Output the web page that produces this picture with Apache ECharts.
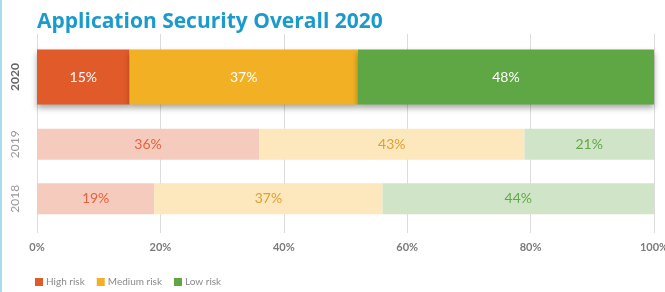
<!DOCTYPE html>
<html>
<head>
<meta charset="utf-8">
<script src="https://cdn.jsdelivr.net/npm/echarts@6/dist/echarts.min.js"></script>
<style>
  html, body { margin: 0; padding: 0; background: #fff; }
  #chart { width: 663px; height: 292px; border-left: 2px solid #a9dcee; }
</style>
</head>
<body>
<div id="chart"></div>
<script>
// data
const years = ["2020", "2019", "2018"];
const highRisk = [15, 36, 19];
const mediumRisk = [37, 43, 37];
const lowRisk = [48, 21, 44];
const xTicks = [0, 20, 40, 60, 80, 100];

const darkColors = ["#e05a2a", "#f2b124", "#5fa644"];
const lightColors = ["#f5cbbe", "#fde7bd", "#d0e5c7"];
const labelColors = ["#e8623e", "#dea133", "#62a84a"];
const names = ["High risk", "Medium risk", "Low risk"];
const values = [highRisk, mediumRisk, lowRisk];

const chart = echarts.init(document.getElementById("chart"));

const fontFam = "Lato, 'Open Sans', sans-serif";
const gridLine = { show: true, lineStyle: { color: "#dcdcdc", width: 1 } };

// top bar (2020) in its own grid so it can be thicker
const series = [];
values.forEach((vals, i) => {
  series.push({
    name: names[i],
    type: "bar",
    stack: "now",
    xAxisIndex: 0,
    yAxisIndex: 0,
    barWidth: 55,
    data: vals.slice(0, 1),
    itemStyle: {
      color: darkColors[i],
      shadowColor: "rgba(0,0,0,0.35)",
      shadowBlur: 6,
      shadowOffsetY: 3,
    },
    label: {
      show: true,
      position: "inside",
      formatter: "{c}%",
      color: "#fff",
      fontSize: 14,
      fontFamily: fontFam,
    },
  });
});
values.forEach((vals, i) => {
  series.push({
    name: names[i],
    type: "bar",
    stack: "past",
    xAxisIndex: 1,
    yAxisIndex: 1,
    barWidth: 31,
    data: vals.slice(1),
    itemStyle: { color: lightColors[i] },
    label: {
      show: true,
      position: "inside",
      formatter: "{c}%",
      color: labelColors[i],
      fontSize: 14,
      fontFamily: fontFam,
    },
  });
});

const option = {
  animation: false,
  color: darkColors,
  title: {
    text: "Application Security Overall 2020",
    left: 30,
    top: 7,
    textStyle: {
      color: "#1b9bcb",
      fontSize: 21,
      fontWeight: "bold",
      fontFamily: "'Open Sans', sans-serif",
    },
  },
  legend: {
    data: names,
    left: 28,
    top: 272,
    itemWidth: 8,
    itemHeight: 8,
    itemGap: 12,
    icon: "rect",
    textStyle: { color: "#8a8a8a", fontSize: 10, fontFamily: fontFam, padding: [0, 0, 0, -2] },
  },
  grid: [
    { left: 35, right: 11, top: 34, height: 86, outerBoundsMode: "none" },
    { left: 35, right: 11, top: 117, height: 109, outerBoundsMode: "none" },
  ],
  xAxis: [
    {
      gridIndex: 0,
      type: "value",
      min: xTicks[0],
      max: xTicks[xTicks.length - 1],
      interval: 20,
      axisLabel: { show: false },
      axisLine: { show: false },
      axisTick: { show: false },
      splitLine: gridLine,
    },
    {
      gridIndex: 1,
      type: "value",
      min: xTicks[0],
      max: xTicks[xTicks.length - 1],
      interval: 20,
      axisLine: { show: false },
      axisTick: { show: true, length: 7, lineStyle: { color: "#dcdcdc" } },
      splitLine: gridLine,
      axisLabel: {
        formatter: "{value}%",
        color: "#7b7b7b",
        fontSize: 11,
        fontWeight: "bold",
        fontFamily: fontFam,
        margin: 16,
      },
    },
  ],
  yAxis: [
    {
      gridIndex: 0,
      type: "category",
      data: years.slice(0, 1),
      axisLine: { show: false },
      axisTick: { show: false },
      axisLabel: {
        rotate: 90,
        margin: 16,
        color: "#666",
        fontSize: 12,
        fontWeight: "bold",
        fontFamily: fontFam,
      },
    },
    {
      gridIndex: 1,
      type: "category",
      inverse: true,
      data: years.slice(1),
      axisLine: { show: false },
      axisTick: { show: false },
      axisLabel: {
        rotate: 90,
        margin: 16,
        color: "#999",
        fontSize: 12,
        fontFamily: fontFam,
      },
    },
  ],
  series,
};

chart.setOption(option);
</script>
</body>
</html>
